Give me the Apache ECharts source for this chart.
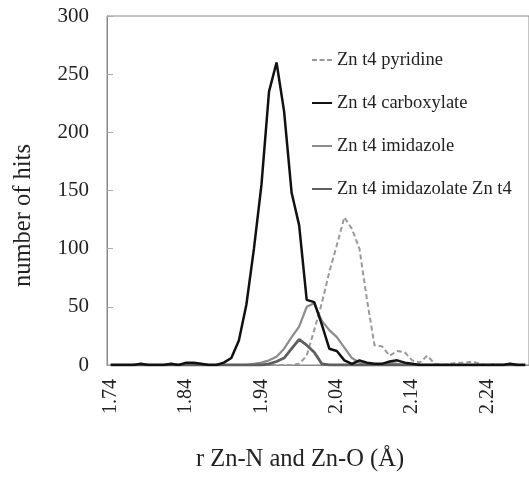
<!DOCTYPE html>
<html>
<head>
    <meta charset="utf-8">
    <title>Zn-N / Zn-O distances</title>
    <style>
        html, body { margin: 0; padding: 0; background: #fff; }
        #main { width: 529px; height: 477px; }
    </style>
</head>
<body>
    <div id="main"></div>
    <script src="https://cdn.jsdelivr.net/npm/echarts@6/dist/echarts.min.js"></script>
    <script>
    // distance bins (Å), 1.74 .. 2.29
    var categories = ['1.74','1.75','1.76','1.77','1.78','1.79','1.80','1.81','1.82','1.83',
        '1.84','1.85','1.86','1.87','1.88','1.89','1.90','1.91','1.92','1.93',
        '1.94','1.95','1.96','1.97','1.98','1.99','2.00','2.01','2.02','2.03',
        '2.04','2.05','2.06','2.07','2.08','2.09','2.10','2.11','2.12','2.13',
        '2.14','2.15','2.16','2.17','2.18','2.19','2.20','2.21','2.22','2.23',
        '2.24','2.25','2.26','2.27','2.28','2.29'];

    var pyridine = [0,0,0,0,0,0,0,0,0,0,
        0,0,0,0,0,0,0,0,0,0,
        0,0,0,0,0,1,8,30,53,80,
        103,127,117,100,56,17,16,8,12,11,
        4,2,8,1,0,1,2,2,3,1,
        0,1,0,1,0,0];

    var carboxylate = [0,0,0,0,1,0,0,0,1,0,
        2,2,1,0,0,2,6,21,52,100,
        155,235,260,218,148,120,56,54,35,14,
        12,4,1,4,2,1,1,3,4,2,
        1,0,0,0,0,0,0,0,0,0,
        0,0,0,1,0,0];

    var imidazole = [0,0,0,0,0,0,0,0,0,0,
        0,0,0,0,0,0,0,0,0,1,
        2,4,7,14,24,33,50,53,38,30,
        24,15,6,2,1,0,1,2,1,0,
        0,0,0,0,0,0,0,0,0,0,
        0,0,0,0,0,0];

    var imidazolate = [0,0,0,0,0,0,0,0,0,0,
        0,0,0,0,0,0,0,0,0,0,
        0,1,3,6,14,22,17,11,1,0,
        0,0,0,0,0,0,0,0,0,0,
        0,0,0,0,0,0,0,0,0,0,
        0,0,0,0,0,0];

    var seriesNames = ['Zn t4 pyridine', 'Zn t4 carboxylate', 'Zn t4 imidazole', 'Zn t4 imidazolate Zn t4'];

    var serif = '"Liberation Serif", "DejaVu Serif", serif';
    var myChart = echarts.init(document.getElementById('main'));

    // legend keys: short dashes for pyridine, plain strokes for the rest
    var dashIcon = 'path://M0,0h5v2h-5z M7.5,0h5v2h-5z M15,0h5v2h-5z';

    var option = {
        animation: false,
        backgroundColor: '#fff',
        grid: {
            left: 107,
            right: -2,
            top: 16,
            bottom: 109,
            show: true,
            borderColor: '#8a8a8a',
            borderWidth: 1
        },
        legend: {
            orient: 'vertical',
            left: 312,
            top: 50,
            padding: 0,
            itemWidth: 20,
            itemHeight: 2,
            itemGap: 23,
            data: [
                { name: seriesNames[0], icon: dashIcon },
                { name: seriesNames[1], icon: 'rect' },
                { name: seriesNames[2], icon: 'rect' },
                { name: seriesNames[3], icon: 'rect' }
            ],
            textStyle: {
                fontFamily: serif,
                fontSize: 18.5,
                color: '#222',
                lineHeight: 20
            }
        },
        xAxis: {
            type: 'category',
            data: categories,
            boundaryGap: true,
            name: 'r Zn-N and Zn-O (Å)',
            nameLocation: 'middle',
            nameGap: 82,
            nameTextStyle: {
                fontFamily: serif,
                fontSize: 24.5,
                color: '#222',
                padding: [0, 36, 0, 0]
            },
            axisLine: { lineStyle: { color: '#8a8a8a', width: 1 } },
            axisTick: {
                inside: true,
                length: 4,
                interval: 0,
                lineStyle: { color: '#aaa' }
            },
            axisLabel: {
                interval: 9,
                rotate: 90,
                margin: 14,
                fontFamily: serif,
                fontSize: 20,
                color: '#222'
            },
            splitLine: { show: false }
        },
        yAxis: {
            type: 'value',
            min: 0,
            max: 300,
            interval: 50,
            name: 'number of hits',
            nameLocation: 'middle',
            nameRotate: 90,
            nameGap: 71,
            nameTextStyle: {
                fontFamily: serif,
                fontSize: 24.5,
                color: '#222',
                padding: [0, 50, 0, 0]
            },
            axisLine: { show: true, lineStyle: { color: '#8a8a8a', width: 1 } },
            axisTick: {
                show: true,
                inside: true,
                length: 6,
                lineStyle: { color: '#aaa' }
            },
            axisLabel: {
                margin: 18,
                fontFamily: serif,
                fontSize: 21,
                color: '#222'
            },
            splitLine: { show: false }
        },
        series: [
            {
                name: seriesNames[0],
                type: 'line',
                data: pyridine,
                symbol: 'none',
                z: 2,
                itemStyle: { color: '#999' },
                lineStyle: { color: '#999', width: 2, type: [5, 3] }
            },
            {
                name: seriesNames[1],
                type: 'line',
                data: carboxylate,
                symbol: 'none',
                z: 5,
                itemStyle: { color: '#111' },
                lineStyle: { color: '#111', width: 2.5 }
            },
            {
                name: seriesNames[2],
                type: 'line',
                data: imidazole,
                symbol: 'none',
                z: 3,
                itemStyle: { color: '#8c8c8c' },
                lineStyle: { color: '#8c8c8c', width: 2.2 }
            },
            {
                name: seriesNames[3],
                type: 'line',
                data: imidazolate,
                symbol: 'none',
                z: 4,
                itemStyle: { color: '#5e5e5e' },
                lineStyle: { color: '#5e5e5e', width: 2.8 }
            }
        ]
    };

    myChart.setOption(option);
    </script>
</body>
</html>
